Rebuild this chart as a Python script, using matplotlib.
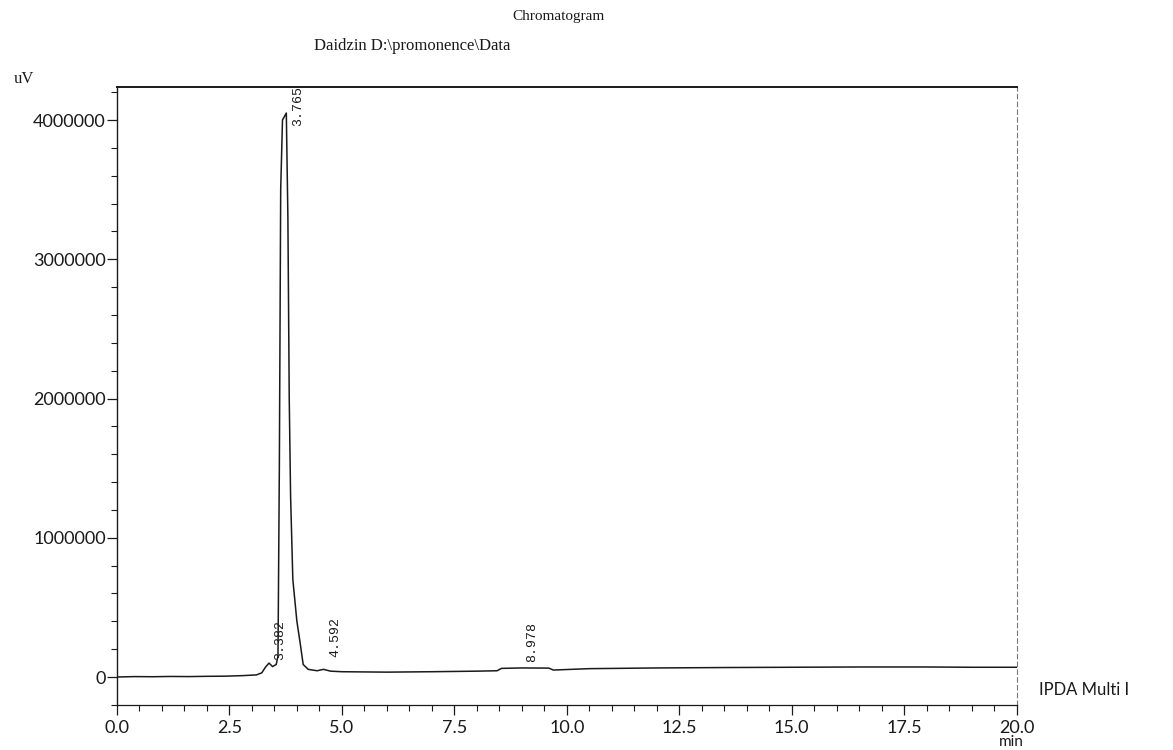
import matplotlib.pyplot as plt
from matplotlib.ticker import MultipleLocator

time_min = [0.0, 0.4, 0.8, 1.2, 1.6, 2.0, 2.4, 2.8, 3.10, 3.22, 3.30, 3.38, 3.46, 3.54,
            3.58, 3.61, 3.64, 3.68, 3.765, 3.80, 3.83, 3.86, 3.91, 4.00, 4.07, 4.14,
            4.25, 4.45, 4.592, 4.75, 5.0, 6.0, 7.0, 8.0, 8.45, 8.55, 8.978, 9.6, 9.7,
            10.5, 12.0, 13.5, 15.0, 16.5, 18.0, 19.0, 20.0]
signal_uv = [0, 3000, 2000, 4000, 3000, 5000, 6000, 10000, 15000, 30000, 70000, 100000, 75000, 90000,
             150000, 1500000, 3500000, 4000000, 4050000, 3300000, 2000000, 1300000, 700000, 400000, 250000, 90000,
             55000, 45000, 55000, 42000, 38000, 35000, 38000, 42000, 45000, 62000, 65000, 64000, 50000,
             60000, 65000, 68000, 70000, 72000, 72000, 70000, 70000]

peak_rt = [3.382, 3.765, 4.592, 8.978]
peak_labels = ["3.382", "3.765", "4.592", "8.978"]
label_y = [120000, 3960000, 145000, 110000]   # base of each rotated label

x_ticks = [0.0, 2.5, 5.0, 7.5, 10.0, 12.5, 15.0, 17.5, 20.0]
y_ticks = [0, 1000000, 2000000, 3000000, 4000000]

ink = "#1a1a1a"
sans = ["Lato", "DejaVu Sans"]
serif = ["Liberation Serif", "DejaVu Serif"]

fig = plt.figure(figsize=(11.73, 7.5), dpi=100)
ax = fig.add_axes([0.0997, 0.06, 0.767, 0.824])

ax.plot(time_min, signal_uv, color=ink, lw=1.1)

for rt, txt, yy in zip(peak_rt, peak_labels, label_y):
    ax.annotate(txt, xy=(rt, yy), xytext=(4, 0), textcoords="offset points",
                rotation=90, ha="left", va="bottom", fontsize=9.5,
                family=["Liberation Mono", "DejaVu Sans Mono"], color=ink)

ax.set_xlim(0, 20)
ax.set_ylim(-201000, 4237000)

ax.set_xticks(x_ticks)
ax.set_xticklabels([f"{v:.1f}" for v in x_ticks])
ax.xaxis.set_minor_locator(MultipleLocator(0.5))
ax.set_yticks(y_ticks)
ax.set_yticklabels([str(v) for v in y_ticks])
ax.yaxis.set_minor_locator(MultipleLocator(200000))

ax.tick_params(axis="both", which="major", direction="out", length=7, width=0.9,
               colors=ink, labelsize=13)
ax.tick_params(axis="both", which="minor", direction="out", length=4, width=0.8, colors=ink)
ax.tick_params(axis="y", pad=1)
ax.tick_params(axis="x", pad=4)
for lab in ax.get_xticklabels() + ax.get_yticklabels():
    lab.set_family(sans)

ax.spines["top"].set_linewidth(1.4)
ax.spines["top"].set_color(ink)
ax.spines["left"].set_linewidth(1.0)
ax.spines["left"].set_color(ink)
ax.spines["bottom"].set_linewidth(0.9)
ax.spines["bottom"].set_color(ink)
ax.spines["right"].set_linewidth(0.8)
ax.spines["right"].set_color("#777777")
ax.spines["right"].set_linestyle((0, (4, 3)))

ax.text(20.5, -90000, "IPDA Multi I", fontsize=12, family=sans, color=ink,
        ha="left", va="center", clip_on=False)

fig.text(0.476, 0.978, "Chromatogram", fontsize=11, family=serif, color=ink,
         ha="center", va="center")
fig.text(0.268, 0.939, "Daidzin D:\\promonence\\Data", fontsize=12, family=serif,
         color=ink, ha="left", va="center")
fig.text(0.012, 0.895, "uV", fontsize=12, family=serif, color=ink, ha="left", va="center")
fig.text(0.862, 0.002, "min", fontsize=11, family=sans, color=ink, ha="center", va="bottom")

fig.savefig("out.png", dpi=100)
